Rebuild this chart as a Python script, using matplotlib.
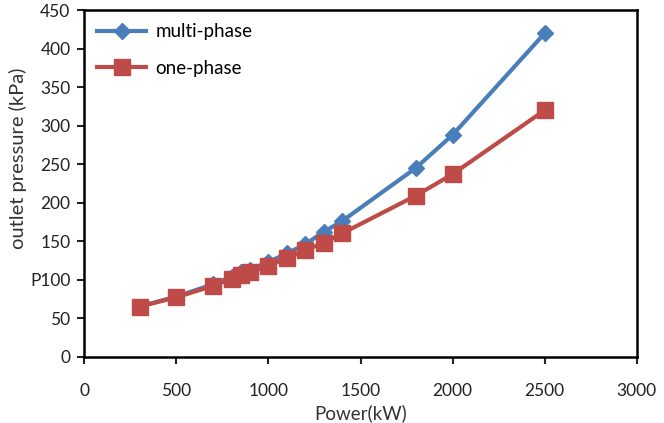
import numpy as np
from matplotlib import pyplot as plt

plt.rcParams['font.family'] = ['Lato', 'DejaVu Sans']

#data
power = [300, 500, 700, 800, 850, 900, 1000, 1100, 1200, 1300, 1400, 1800, 2000, 2500]
multi_phase = [65, 78, 94, 104, 110, 113, 123, 134, 146, 162, 176, 245, 288, 420]
one_phase = [65, 77, 92, 101, 106, 110, 118, 128, 138, 148, 160, 209, 237, 320]
x_ticks = [0, 500, 1000, 1500, 2000, 2500, 3000]
y_ticks = [0, 50, 100, 150, 200, 250, 300, 350, 400, 450]
y_ticklabels = ['0', '50', 'P100', '150', '200', '250', '300', '350', '400', '450']

fig = plt.figure(figsize=(6.64, 4.23), dpi=100)
ax = fig.add_axes([0.127, 0.157, 0.832, 0.819])

ax.plot(power, multi_phase, color='#4a7ebb', lw=3, marker='D', ms=8,
        label='multi-phase')
ax.plot(power, one_phase, color='#be4b48', lw=3, marker='s', ms=11,
        label='one-phase')

ax.set_xlim(0, 3000)
ax.set_ylim(0, 450)
ax.set_xticks(x_ticks)
ax.set_yticks(y_ticks)
ax.set_yticklabels(y_ticklabels)
ax.tick_params(direction='out', length=5, width=1.5, labelsize=12.5, colors='#222222')
ax.tick_params(axis='x', pad=14)
ax.tick_params(axis='y', pad=5)
for s in ax.spines.values():
    s.set_linewidth(1.8)

ax.set_xlabel('Power(kW)', fontsize=13.5, color='#333333', labelpad=4)
ax.set_ylabel('outlet pressure (kPa)', fontsize=14.5, color='#333333')
ax.yaxis.set_label_coords(-0.104, 0.573)

ax.legend(loc='upper left', frameon=False, fontsize=13.5, handlelength=2.6,
          handletextpad=0.5, labelspacing=1.05, borderaxespad=0.3,
          bbox_to_anchor=(0.0, 1.0))

plt.savefig('out.png')
